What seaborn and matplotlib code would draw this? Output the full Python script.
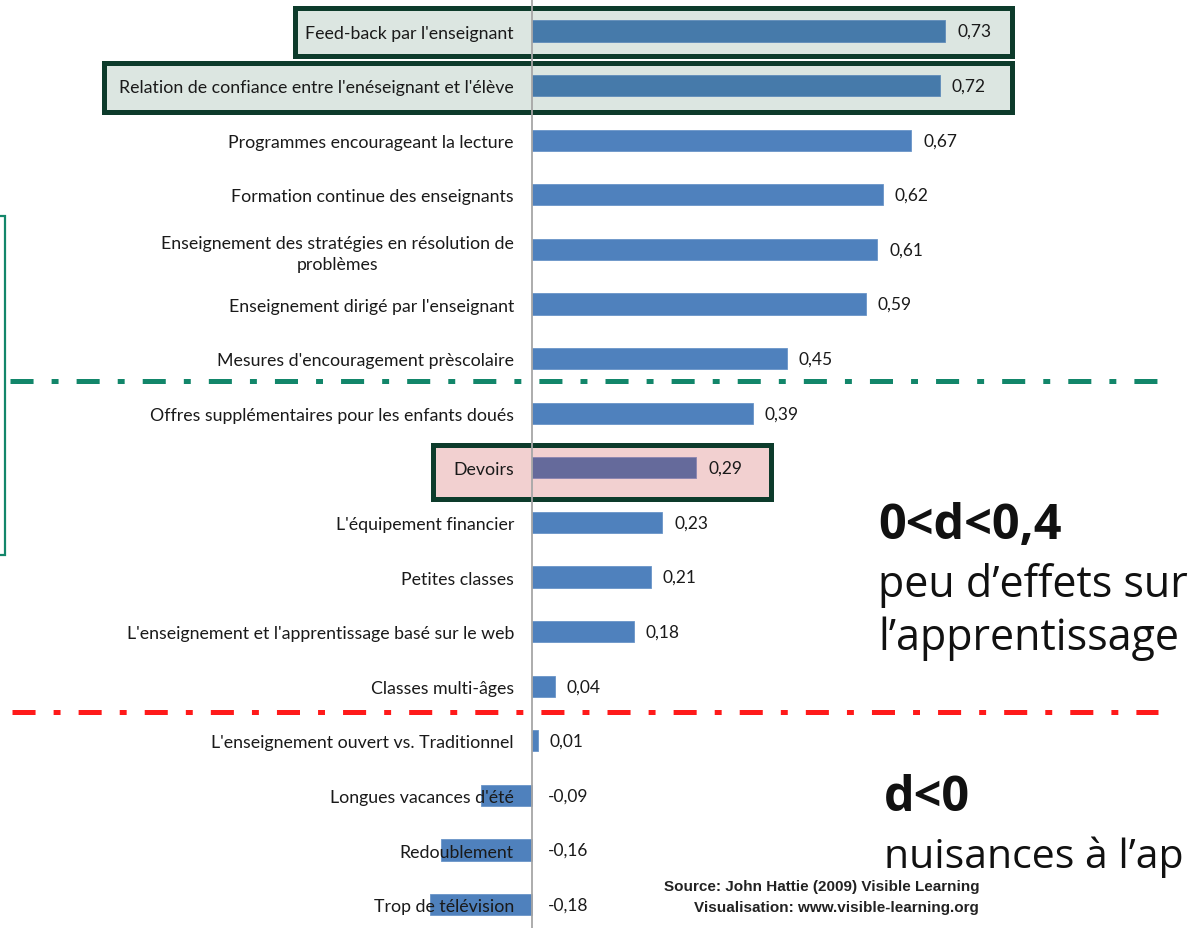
import pandas as pd
import seaborn as sns
import matplotlib
matplotlib.use('Agg')
from matplotlib import pyplot as plt
from matplotlib.patches import Rectangle
from matplotlib.lines import Line2D

labels = ["Feed-back par l'enseignant",
          "Relation de confiance entre l'enéseignant et l'élève",
          "Programmes encourageant la lecture",
          "Formation continue des enseignants",
          "Enseignement des stratégies en résolution de\nproblèmes",
          "Enseignement dirigé par l'enseignant",
          "Mesures d'encouragement prèscolaire",
          "Offres supplémentaires pour les enfants doués",
          "Devoirs",
          "L'équipement financier",
          "Petites classes",
          "L'enseignement et l'apprentissage basé sur le web",
          "Classes multi-âges",
          "L'enseignement ouvert vs. Traditionnel",
          "Longues vacances d'été",
          "Redoublement",
          "Trop de télévision"]
values = [0.73, 0.72, 0.67, 0.62, 0.61, 0.59, 0.45, 0.39, 0.29,
          0.23, 0.21, 0.18, 0.04, 0.01, -0.09, -0.16, -0.18]

W, H = 1201, 929
sns.set_style("white")
plt.rcParams['font.family'] = ['Lato', 'DejaVu Sans']
plt.rcParams['lines.scale_dashes'] = False

df = pd.DataFrame({"label": labels, "d": values})

fig = plt.figure(figsize=(W / 100, H / 100), dpi=100)
ax = fig.add_axes([0, 0, 1, 1])
ax.patch.set_alpha(0)
ax.set_zorder(1)

sns.barplot(data=df, x="d", y="label", orient="h", color="#4F81BD",
            width=0.39, saturation=1, ax=ax, zorder=2,
            edgecolor="#6A95C8", linewidth=0.6)

# pixel helpers (top-left origin)
def fx(x):
    return x / W

def fy(y):
    return 1 - y / H

# x: zero at px 532, 566 px per unit ; y: row 0 at px 32, 54.6 px per row
ax.set_xlim(-532 / 566, (W - 532) / 566)
ax.set_ylim((H - 32) / 54.6, -32 / 54.6)

for s in ["top", "right", "bottom"]:
    ax.spines[s].set_visible(False)
ax.spines["left"].set_position(("data", 0))
ax.spines["left"].set_color("#A6A6A6")
ax.spines["left"].set_linewidth(1.3)
ax.spines["left"].set_zorder(3)
ax.set_xticks([])
ax.set_xlabel("")
ax.set_ylabel("")
ax.yaxis.set_zorder(5)
ax.tick_params(axis="y", length=0, pad=13, labelsize=12.8, labelcolor="#1A1A1A")
for t in ax.get_yticklabels():
    t.set_multialignment("center")
    t.set_linespacing(1.4)

# recolour highlighted bars
for k in (0, 1):
    ax.patches[k].set_facecolor("#467AAA")
    ax.patches[k].set_edgecolor("#5F8CBA")
ax.patches[8].set_facecolor("#656A9B")
ax.patches[8].set_edgecolor("#8A84B0")

for i, v in enumerate(values):
    off = 8.6 if v >= 0 else 11.5
    ax.annotate(f"{v:.2f}".replace(".", ","), xy=(max(v, 0), i),
                xytext=(off, 0), textcoords="offset points",
                va="center", ha="left", fontsize=12.5, color="#1A1A1A", zorder=5)

# highlight boxes (behind the axes)
edge = "#0D3B2B"
boxes = [(295, 9, 1012, 57, "#DCE6E1"),
         (104, 64, 1012, 113, "#DCE6E1"),
         (433, 446, 771, 500, "#F2D0D0")]
for x0, y0, x1, y1, fc in boxes:
    fig.add_artist(Rectangle((fx(x0), fy(y1)), fx(x1) - fx(x0), fy(y0) - fy(y1),
                             transform=fig.transFigure, facecolor=fc,
                             edgecolor=edge, linewidth=3.6, zorder=0.5))

# left bracket
fig.add_artist(Rectangle((fx(-10), fy(556)), fx(15), fy(217) - fy(556),
                         transform=fig.transFigure, facecolor="none",
                         edgecolor="#13866A", linewidth=1.6, zorder=3))

# dash-dot separators
dd = (0, (16.6, 13, 5, 13))
fig.add_artist(Line2D([fx(10), fx(1158)], [fy(382), fy(382)],
                      transform=fig.transFigure, color="#12866A", lw=3.6,
                      linestyle=dd, dash_capstyle="butt", zorder=4))
fig.add_artist(Line2D([fx(12), fx(1158)], [fy(713), fy(713)],
                      transform=fig.transFigure, color="#FF1A1A", lw=3.6,
                      linestyle=dd, dash_capstyle="butt", zorder=4))

# annotations
big = ["Open Sans", "DejaVu Sans"]
fig.text(fx(878), fy(539), "0<d<0,4", fontsize=35, fontweight="bold", color="#111111", family=big)
fig.text(fx(878), fy(597), "peu d\u2019effets sur", fontsize=31, color="#111111", family=big)
fig.text(fx(878), fy(650), "l\u2019apprentissage", fontsize=31, color="#111111", family=big)
fig.text(fx(884), fy(811), "d<0", fontsize=35, fontweight="bold", color="#111111", family=big)
fig.text(fx(884), fy(868), "nuisances à l\u2019ap", fontsize=29.5, color="#111111", family=big)

fig.text(fx(979), fy(891), "Source: John Hattie (2009) Visible Learning",
         ha="right", fontsize=11, fontweight="bold", family="Liberation Sans", color="#222222")
fig.text(fx(979), fy(912), "Visualisation: www.visible-learning.org",
         ha="right", fontsize=11, fontweight="bold", family="Liberation Sans", color="#222222")

fig.savefig("out.png", dpi=100)
